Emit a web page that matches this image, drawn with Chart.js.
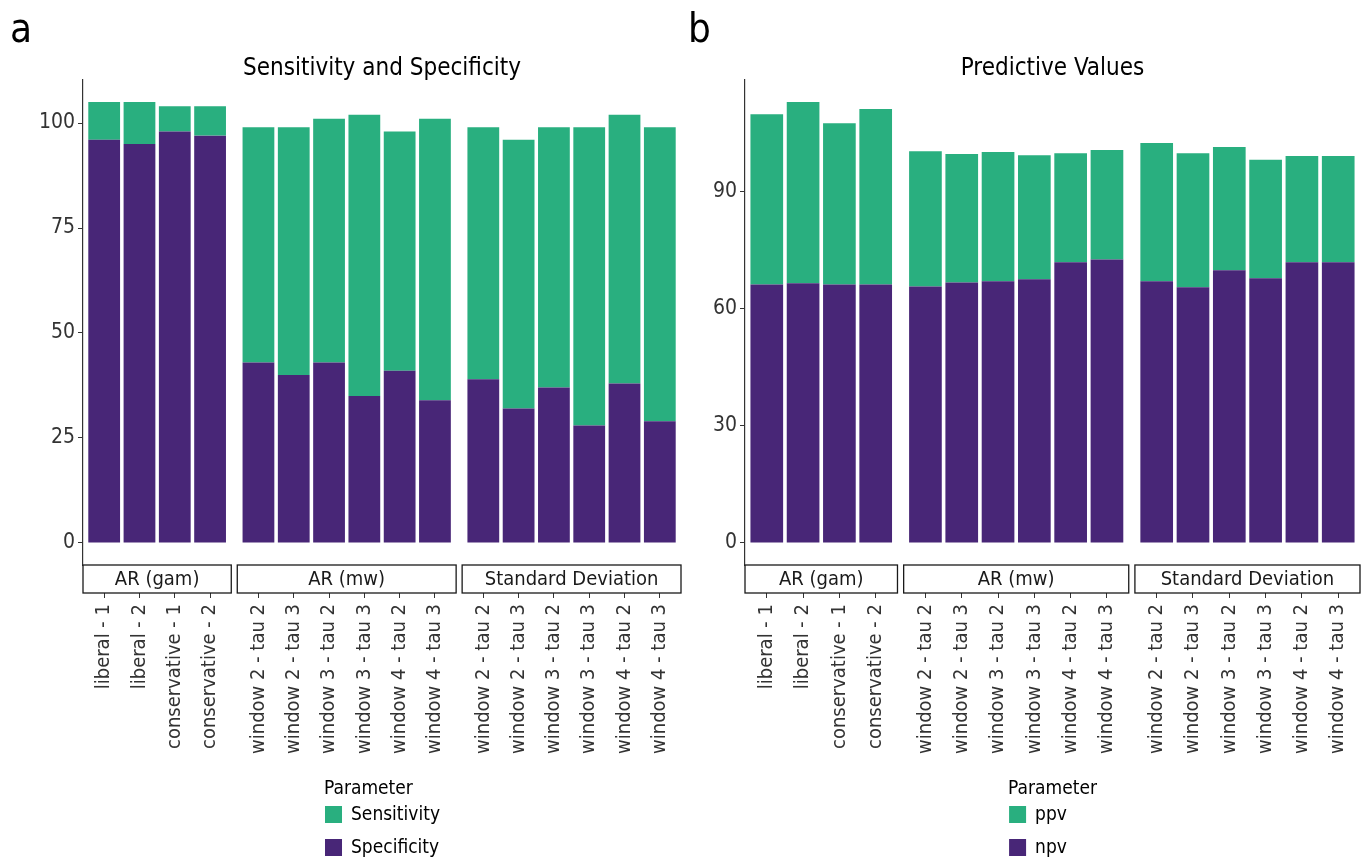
<!DOCTYPE html>
<html>
<head>
<meta charset="utf-8">
<script src="https://cdn.jsdelivr.net/npm/chart.js@4.4.1/dist/chart.umd.min.js"></script>
<style>
  html, body { margin: 0; padding: 0; background: #fff; }
  #page { position: relative; width: 1367px; height: 860px; overflow: hidden; }
  .panel { position: absolute; top: 0; height: 860px; }
</style>
</head>
<body>
<div id="page">
  <div class="panel" style="left:0;width:683px"><canvas id="chartA"></canvas></div>
  <div class="panel" style="left:683px;width:684px"><canvas id="chartB"></canvas></div>
</div>
<script>
const FONT = '"Liberation Sans Narrow", "Arial Narrow", "DejaVu Sans Condensed", sans-serif';

// facets and categories
const groupNames = ['AR (gam)', 'AR (mw)', 'Standard Deviation'];
const gamLabels = ['liberal - 1', 'liberal - 2', 'conservative - 1', 'conservative - 2'];
const windowLabels = ['window 2 - tau 2', 'window 2 - tau 3', 'window 3 - tau 2',
                      'window 3 - tau 3', 'window 4 - tau 2', 'window 4 - tau 3'];
const categories = [...gamLabels, ...windowLabels, ...windowLabels];
const groupOf = [0, 0, 0, 0, 1, 1, 1, 1, 1, 1, 2, 2, 2, 2, 2, 2];

// panel a
const specificity = [96, 95, 98, 97, 43, 40, 43, 35, 41, 34, 39, 32, 37, 28, 38, 29];
const sensitivity = [9, 10, 6, 7, 56, 59, 58, 67, 57, 67, 60, 64, 62, 71, 64, 70];
const ticksA = [0, 25, 50, 75, 100];

// panel b
const npv = [66.2, 66.5, 66.2, 66.2, 65.7, 66.7, 67.0, 67.5, 71.9, 72.6, 67.0, 65.5, 69.8, 67.8, 71.9, 71.9];
const ppv = [43.6, 46.4, 41.3, 44.9, 34.6, 32.9, 33.1, 31.8, 27.9, 28.0, 35.4, 34.3, 31.6, 30.3, 27.2, 27.2];
const ticksB = [0, 30, 60, 90];

const GREEN = '#29AF7F';
const PURPLE = '#482677';
const INK = '#333333';

// ggplot-like discrete expansion (0.6) and a small gap between facets
const EXPAND = 0.6;
const GAP = 0.17;
const pos = [];
const bounds = [];
let start = 0;
groupNames.forEach((g, gi) => {
  const idx = groupOf.map((v, i) => v === gi ? i : -1).filter(i => i >= 0);
  idx.forEach((i, k) => { pos[i] = start + k; });
  const lo = start - EXPAND;
  const hi = start + idx.length - 1 + EXPAND;
  bounds.push([lo, hi]);
  start = hi + GAP + EXPAND;
});

const facetPlugin = {
  id: 'facets',
  afterDraw(chart, args, opts) {
    const ctx = chart.ctx;
    const ca = chart.chartArea;
    const x = chart.scales.x;
    ctx.save();

    // strips under the panel, covering the upper part of the tick marks
    const top = ca.bottom;
    const h = 28;
    ctx.font = `20px ${FONT}`;
    ctx.textAlign = 'center';
    ctx.textBaseline = 'middle';
    bounds.forEach(([lo, hi], gi) => {
      const l = x.getPixelForValue(lo);
      const r = x.getPixelForValue(hi);
      ctx.fillStyle = '#fff';
      ctx.fillRect(l, top, r - l, h);
      ctx.strokeStyle = '#1a1a1a';
      ctx.lineWidth = 1.3;
      ctx.strokeRect(l, top, r - l, h);
      ctx.fillStyle = '#1a1a1a';
      ctx.fillText(groupNames[gi], (l + r) / 2, top + h / 2 + 1);
    });

    // title and tag
    const cx = (ca.left + ca.right) / 2;
    ctx.font = `24px ${FONT}`;
    ctx.fillStyle = '#000';
    ctx.textAlign = 'center';
    ctx.textBaseline = 'alphabetic';
    ctx.fillText(opts.title, cx, 75);
    ctx.font = `40px ${FONT}`;
    ctx.textAlign = 'left';
    ctx.fillText(opts.tag, opts.tagX, 42);

    // legend
    ctx.font = `19px ${FONT}`;
    const titleW = ctx.measureText('Parameter').width;
    const labelW = Math.max(...opts.legend.map(it => ctx.measureText(it.text).width));
    const w = Math.max(titleW, 27 + labelW);
    const lx = cx - w / 2;
    ctx.fillStyle = '#000';
    ctx.fillText('Parameter', lx, 794);
    opts.legend.forEach((it, k) => {
      const ky = 806 + k * 33;
      ctx.fillStyle = it.color;
      ctx.fillRect(lx + 1, ky, 17, 17);
      ctx.fillStyle = '#000';
      ctx.textBaseline = 'middle';
      ctx.fillText(it.text, lx + 27, ky + 9);
      ctx.textBaseline = 'alphabetic';
    });
    ctx.restore();
  }
};

function makePanel(id, cfg) {
  const totals = cfg.bottom.map((v, i) => v + cfg.top[i]);
  const maxTotal = Math.max(...totals);
  const pad = maxTotal * 0.05;
  return new Chart(document.getElementById(id), {
    type: 'bar',
    data: {
      datasets: [
        { label: cfg.bottomLabel, data: cfg.bottom.map((v, i) => ({ x: pos[i], y: v })), backgroundColor: PURPLE },
        { label: cfg.topLabel, data: cfg.top.map((v, i) => ({ x: pos[i], y: v })), backgroundColor: GREEN }
      ]
    },
    options: {
      responsive: true,
      maintainAspectRatio: false,
      animation: false,
      layout: { padding: { top: 80, right: cfg.padRight, left: 0, bottom: 0 } },
      datasets: { bar: { categoryPercentage: 1, barPercentage: 0.9, borderWidth: 0 } },
      plugins: {
        legend: { display: false },
        tooltip: { enabled: false },
        facets: {
          title: cfg.title,
          tag: cfg.tag,
          tagX: cfg.tagX,
          legend: [
            { text: cfg.topLabel, color: GREEN },
            { text: cfg.bottomLabel, color: PURPLE }
          ]
        }
      },
      scales: {
        x: {
          type: 'linear',
          stacked: true,
          offset: false,
          min: bounds[0][0],
          max: bounds[bounds.length - 1][1],
          afterBuildTicks: ax => { ax.ticks = pos.map(p => ({ value: p })); },
          afterFit: ax => { ax.height = 295; ax.paddingLeft = 0; ax.paddingRight = 0; },
          grid: { offset: false, drawOnChartArea: false, drawTicks: true, tickLength: 33, color: INK, lineWidth: 1 },
          border: { display: false },
          ticks: {
            autoSkip: false, minRotation: 90, maxRotation: 90, padding: 6,
            color: INK, font: { family: FONT, size: 20 },
            callback: (v, i) => categories[i]
          }
        },
        y: {
          stacked: true,
          min: -pad,
          max: maxTotal + pad,
          afterBuildTicks: ax => { ax.ticks = cfg.ticks.map(v => ({ value: v })); },
          afterFit: ax => { ax.width = cfg.axisWidth; ax.paddingTop = 0; ax.paddingBottom = 0; },
          grid: { drawOnChartArea: false, tickLength: 5, color: INK },
          border: { color: INK, width: 1.2 },
          ticks: { padding: 3, color: INK, font: { family: FONT, size: 21 } }
        }
      }
    },
    plugins: [facetPlugin]
  });
}

makePanel('chartA', {
  bottom: specificity, top: sensitivity,
  bottomLabel: 'Specificity', topLabel: 'Sensitivity',
  ticks: ticksA, title: 'Sensitivity and Specificity',
  tag: 'a', tagX: 10, axisWidth: 83, padRight: 2
});

makePanel('chartB', {
  bottom: npv, top: ppv,
  bottomLabel: 'npv', topLabel: 'ppv',
  ticks: ticksB, title: 'Predictive Values',
  tag: 'b', tagX: 5, axisWidth: 62, padRight: 7
});
</script>
</body>
</html>
